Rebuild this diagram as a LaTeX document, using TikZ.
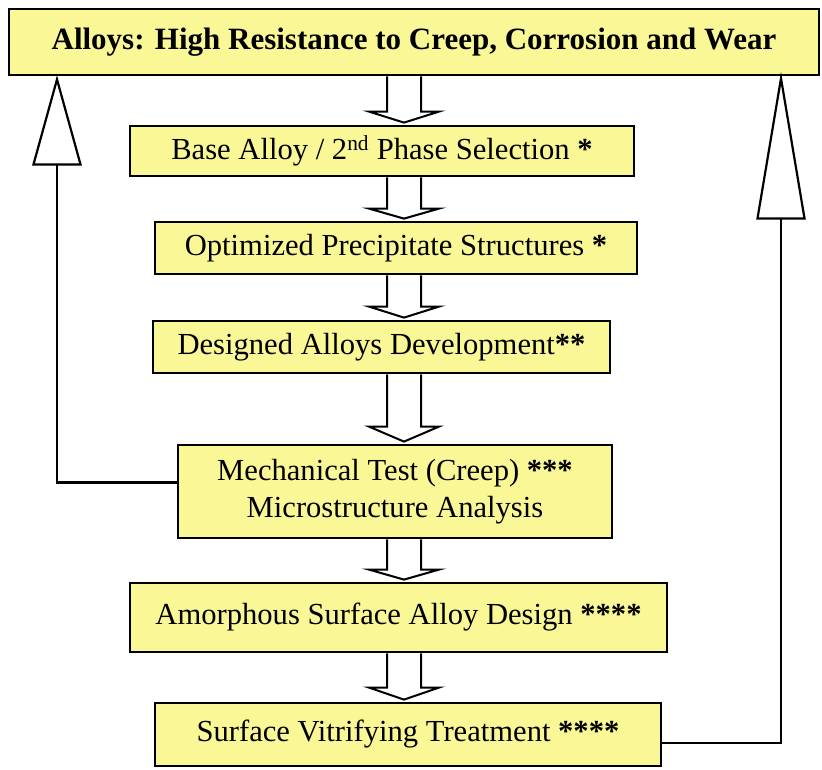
\documentclass[tikz,border=0pt]{standalone}
\usepackage{fontspec}
\setmainfont{Liberation Serif}
\usetikzlibrary{calc}
\definecolor{boxfill}{RGB}{250,248,150}
\tikzset{
  box/.style={draw=black, fill=boxfill, line width=2.8pt, inner sep=0pt, align=center,
    font=\fontsize{30.6}{37}\selectfont},
  barrow/.style={draw=black, fill=white, line width=2pt, line join=miter},
  fline/.style={draw=black, line width=2.2pt},
  fhead/.style={draw=black, fill=white, line width=2.2pt, line join=miter}
}
\newcommand\blockarr[3]{%
  \draw[barrow] let \p1=($(#1.south -| ax)$), \p2=($(#2.north -| ax)$) in
    (\x1-17pt,\y1) -- (\x1-17pt,\y2+#3) -- (\x1-35pt,\y2+#3) -- (\x1,\y2+2pt)
    -- (\x1+35pt,\y2+#3) -- (\x1+17pt,\y2+#3) -- (\x1+17pt,\y1);}
\begin{document}
\begin{tikzpicture}[x=1pt,y=-1pt]
\useasboundingbox (0,0) rectangle (822,769);
\node[box, minimum width=810pt, minimum height=66pt, font=\fontsize{31}{37}\selectfont\bfseries] (top) at (414,42)
  {Alloys: High Resistance to Creep, Corrosion and Wear};
\node[box, minimum width=504pt, minimum height=50pt] (b2) at (382,151)
  {Base Alloy / 2\textsuperscript{nd} Phase Selection \textbf{*}};
\node[box, minimum width=482pt, minimum height=52pt] (b3) at (396,248)
  {Optimized Precipitate Structures \textbf{*}};
\node[box, minimum width=457pt, minimum height=52pt] (b4) at (381.5,347)
  {Designed Alloys Development\textbf{**}};
\node[box, minimum width=434pt, minimum height=93pt] (b5) at (395,491.5)
  {Mechanical Test (Creep) \textbf{***}\\Microstructure Analysis};
\node[box, minimum width=537pt, minimum height=69pt] (b6) at (398.5,617.5)
  {Amorphous Surface Alloy Design \textbf{****}};
\node[box, minimum width=506pt, minimum height=63pt] (b7) at (408,734.5)
  {Surface Vitrifying Treatment \textbf{****}};
\coordinate (ax) at (404,0);
\coordinate (lx) at (57,0);
\coordinate (rx) at (781,0);
\blockarr{top}{b2}{13pt}
\blockarr{b2}{b3}{12pt}
\blockarr{b3}{b4}{13pt}
\blockarr{b4}{b5}{17pt}
\blockarr{b5}{b6}{12pt}
\blockarr{b6}{b7}{14pt}
% left feedback
\coordinate (l0) at ($(b5.west)+(0,-9)$);
\coordinate (ltip) at ($(top.south -| lx)+(0,3)$);
\coordinate (lbase) at ($(ltip)+(0,85)$);
\draw[fline] (l0) -- (l0 -| lx) -- (lbase);
\draw[fhead] ($(lbase)+(-23.5,0)$) -- (ltip) -- ($(lbase)+(23.5,0)$) -- cycle;
% right feedback
\coordinate (r0) at ($(b7.east)+(0,8.5)$);
\coordinate (rtip) at ($(top.south -| rx)+(0,2)$);
\coordinate (rbase) at ($(rtip)+(0,140)$);
\draw[fline] (r0) -- (r0 -| rx) -- (rbase);
\draw[fhead] ($(rbase)+(-23.5,0)$) -- (rtip) -- ($(rbase)+(23.5,0)$) -- cycle;
\end{tikzpicture}
\end{document}
